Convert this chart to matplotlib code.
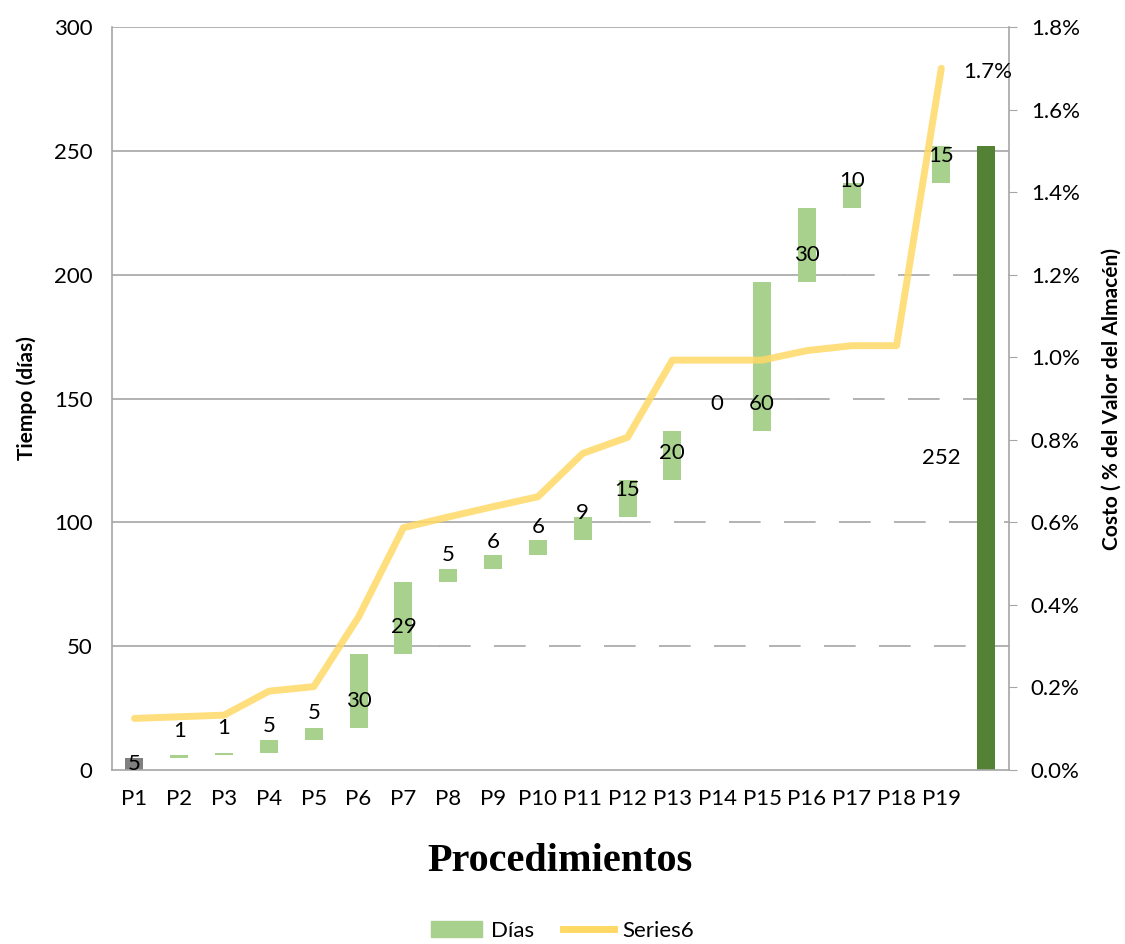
import numpy as np
import matplotlib
matplotlib.use("Agg")
import matplotlib.pyplot as plt
from matplotlib.lines import Line2D
from matplotlib.patches import Patch

plt.rcParams['font.family'] = ['Lato', 'DejaVu Sans']

# datos
procs = ["P1", "P2", "P3", "P4", "P5", "P6", "P7", "P8", "P9", "P10",
         "P11", "P12", "P13", "P14", "P15", "P16", "P17", "P18", "P19"]
dias = [5, 1, 1, 5, 5, 30, 29, 5, 6, 6, 9, 15, 20, 0, 60, 30, 10, np.nan, 15]
total = 252
costo = [0.125, 0.129, 0.133, 0.191, 0.202, 0.371, 0.587, 0.613, 0.638, 0.662,
         0.767, 0.806, 0.993, 0.993, 0.993, 1.016, 1.028, 1.028, 1.70]  # en %

verde = "#A9D18E"
verde_osc = "#548235"
gris = "#808080"
amarillo = "#FFD966"
grid_col = "#A6A6A6"

d = np.nan_to_num(np.array(dias, dtype=float))
base = np.concatenate([[0], np.cumsum(d)[:-1]])
top = base + d
x = np.arange(len(procs))
xt = len(procs)

fig = plt.figure(figsize=(11.25, 9.44), dpi=100)
ax = fig.add_axes([0.0996, 0.1843, 0.7969, 0.7871])

# lineas de division: solidas hasta el paso que cruza el nivel, despues discontinuas
for lev in [50, 100, 150, 200, 250]:
    i = int(np.argmax(top >= lev))
    xe = i + 0.8
    ax.plot([-0.5, xe], [lev, lev], color=grid_col, lw=1.2, zorder=0)
    ax.plot([xe, xt + 0.5], [lev, lev], color=grid_col, lw=1.2, zorder=0,
            linestyle=(0, (19, 14)))
ax.axhline(300, color=grid_col, lw=1.2, zorder=0)

cols = [gris] + [verde] * (len(procs) - 1)
ax.bar(x, d, bottom=base, width=0.4, color=cols, zorder=2)
ax.bar([xt], [total], width=0.4, color=verde_osc, zorder=2)

# etiquetas
ax.text(0, d[0] / 2, "5", ha="center", va="center", fontsize=16, zorder=5)
for i in range(1, len(procs)):
    if np.isnan(dias[i]):
        continue
    ax.annotate(str(int(dias[i])), (i, base[i]), xytext=(0, 19.5),
                textcoords="offset points", ha="center", va="center",
                fontsize=16, zorder=5)
ax.text(xt - 1, total / 2, str(total), ha="center", va="center", fontsize=16, zorder=5)

ax.set_xlim(-0.5, xt + 0.5)
ax.set_ylim(0, 300)
ax.set_yticks(range(0, 301, 50))
ax.set_xticks(list(x) + [xt])
ax.set_xticklabels(procs + [""])
ax.tick_params(axis="both", length=0, labelsize=16, pad=14)
ax.tick_params(axis="y", pad=14)
for s in ["top", "right"]:
    ax.spines[s].set_visible(False)
for s in ["left", "bottom"]:
    ax.spines[s].set_color(grid_col)
    ax.spines[s].set_linewidth(1.2)
ax.set_ylabel("Tiempo (días)", fontsize=15, fontweight="bold", labelpad=12)
ax.set_xlabel("Procedimientos", fontsize=29, fontweight="bold",
              family="Liberation Serif", labelpad=24)

ax2 = ax.twinx()
ax2.plot(x, costo, color=amarillo, lw=5, alpha=0.85, solid_capstyle="round",
         solid_joinstyle="round", zorder=3)
ax2.annotate("1.7%", (x[-1], costo[-1]), xytext=(16, -3), textcoords="offset points",
             ha="left", va="center", fontsize=16)
ax2.set_ylim(0, 1.8)
ax2.set_yticks(np.arange(0, 1.81, 0.2))
ax2.set_yticklabels(["%.1f%%" % v for v in np.arange(0, 1.81, 0.2)])
ax2.tick_params(axis="y", length=6, color=grid_col, labelsize=16, pad=10)
for s in ["top", "left", "bottom"]:
    ax2.spines[s].set_visible(False)
ax2.spines["right"].set_color(grid_col)
ax2.spines["right"].set_linewidth(1.2)
ax2.set_ylabel("Costo ( % del Valor del Almacén)", fontsize=15, fontweight="bold",
               labelpad=16)

handles = [Patch(color=verde, label="Días"),
           Line2D([0], [0], color=amarillo, lw=5, label="Series6")]
fig.legend(handles=handles, loc="lower center", bbox_to_anchor=(0.5, -0.018),
           ncol=2, frameon=False, fontsize=16, handlelength=2.3,
           handletextpad=0.4, columnspacing=1.3)

fig.savefig("out.png", dpi=100)
